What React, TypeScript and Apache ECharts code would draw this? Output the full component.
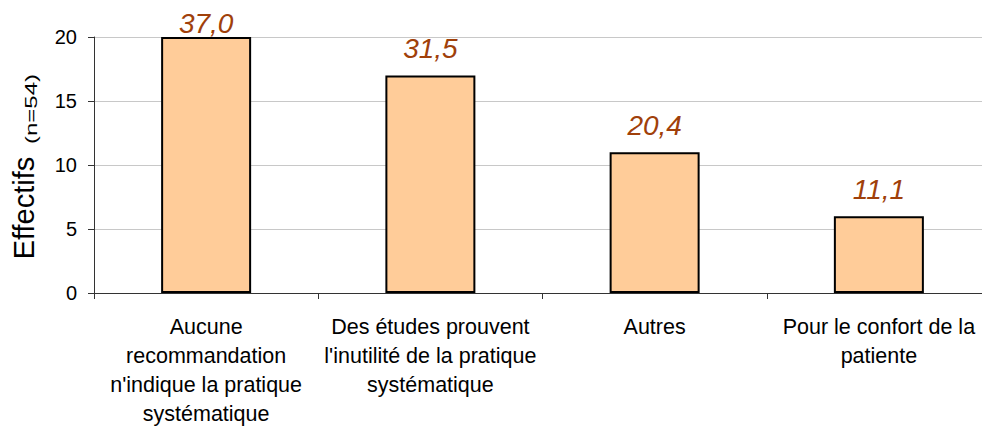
import React, { useEffect, useRef } from "react";
import * as echarts from "echarts";

const categories = [
  "Aucune\nrecommandation\nn'indique la pratique\nsystématique",
  "Des études prouvent\nl'inutilité de la pratique\nsystématique",
  "Autres",
  "Pour le confort de la\npatiente",
];
const counts = [20, 17, 11, 6];
const percentLabels = ["37,0", "31,5", "20,4", "11,1"];
const yTicks = [0, 5, 10, 15, 20];
const yTitle = "Effectifs";
const ySubTitle = "(n=54)";

export default function App() {
  const ref = useRef<HTMLDivElement>(null);
  useEffect(() => {
    document.body.style.margin = "0";
    const chart = echarts.init(ref.current!, null, { renderer: "svg" });
    const font = "Liberation Sans, Arial, sans-serif";
    chart.setOption({
      animation: false,
      backgroundColor: "#ffffff",
      grid: { left: 94, width: 897, top: 37, height: 256, containLabel: false },
      graphic: [
        {
          type: "text",
          x: 24,
          y: 208,
          rotation: Math.PI / 2,
          style: {
            text: yTitle,
            fontSize: 29,
            fontFamily: font,
            fill: "#000",
            align: "center",
            verticalAlign: "middle",
          },
        },
        {
          type: "text",
          x: 32,
          y: 109,
          rotation: Math.PI / 2,
          scaleX: 1.5,
          style: {
            text: ySubTitle,
            fontSize: 16,
            fontFamily: font,
            fill: "#000",
            align: "center",
            verticalAlign: "middle",
          },
        },
      ],
      xAxis: {
        type: "category",
        data: categories,
        axisLine: { lineStyle: { color: "#333", width: 1 } },
        axisTick: { show: true, length: 6, lineStyle: { color: "#333" } },
        axisLabel: {
          interval: 0,
          color: "#000",
          fontFamily: font,
          fontSize: 21.5,
          lineHeight: 29,
          margin: 19,
          verticalAlign: "top",
        },
      },
      yAxis: {
        type: "value",
        min: yTicks[0],
        max: yTicks[yTicks.length - 1],
        interval: 5,
        axisLine: { show: true, lineStyle: { color: "#333", width: 1 } },
        axisTick: { show: true, length: 6, lineStyle: { color: "#333" } },
        axisLabel: { color: "#000", fontFamily: font, fontSize: 20, margin: 17 },
        splitLine: { show: true, lineStyle: { color: "#c8c8c8", width: 1 } },
      },
      series: [
        {
          type: "bar",
          data: counts.map((v, i) => ({
            value: v,
            label:
              i === 0
                ? { position: "top", distance: 0, offset: [0, 0] }
                : { position: "top", distance: 13 },
          })),
          barWidth: 90,
          itemStyle: { color: "#FFCC99", borderColor: "#000", borderWidth: 2 },
          label: {
            show: true,
            position: "top",
            formatter: (p: any) => percentLabels[p.dataIndex],
            fontFamily: font,
            fontStyle: "italic",
            fontSize: 28,
            color: "#A0400A",
          },
        },
      ],
    });
    return () => chart.dispose();
  }, []);
  return (
    <div style={{ width: 982, height: 428, overflow: "hidden", position: "relative" }}>
      <div ref={ref} style={{ width: 1000, height: 428 }} />
    </div>
  );
}
